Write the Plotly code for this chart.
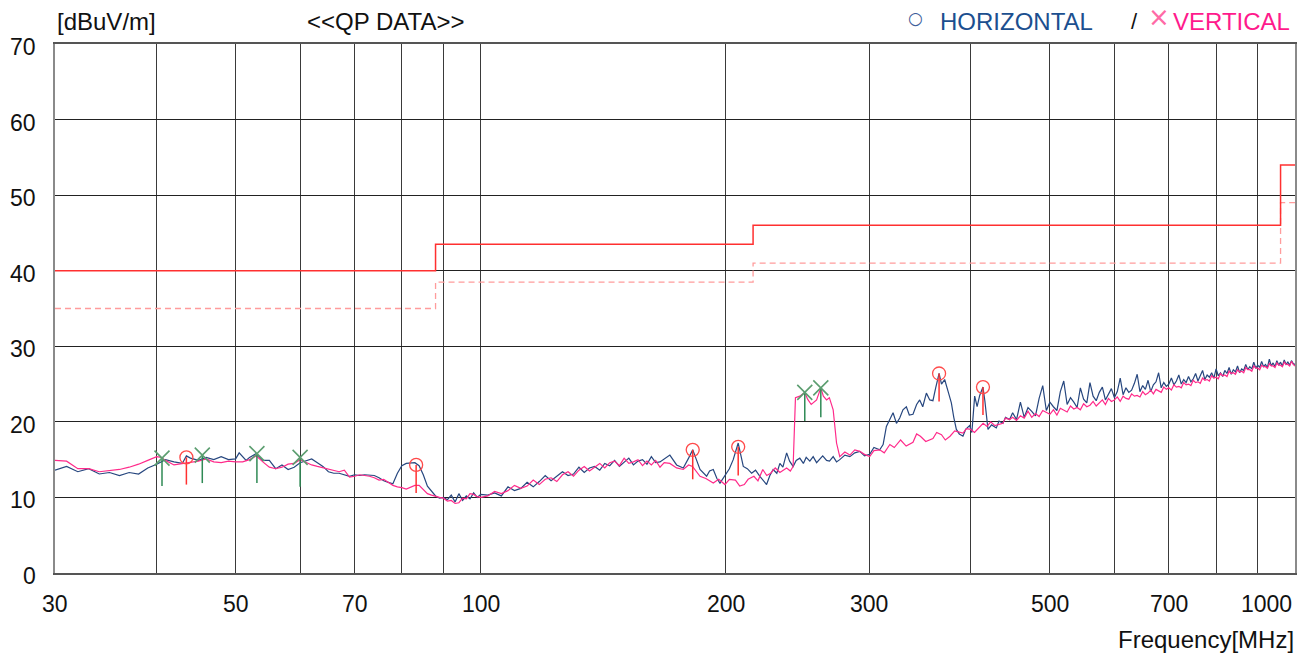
import math
import plotly.graph_objects as go

# ---------------- data ----------------
H_FREQ = [30, 31, 32, 33, 34, 35, 36, 37, 38, 39, 40, 41, 42, 43, 43.5, 44, 45, 46, 47, 48, 49, 50, 50.5, 51.5, 52, 53, 54, 55,
          56, 57, 58, 59, 60, 61, 62, 63, 64, 65, 66, 67, 68, 69, 70, 71, 72, 73, 74, 75, 76, 77, 78, 79, 80, 81, 82, 83, 84,
          85, 86, 87, 88, 89, 90, 91, 92, 93, 94, 95, 96, 97, 98, 99, 100,
          102, 104, 106, 108, 110, 112, 114, 116, 118, 120, 122, 124, 126, 128, 130, 132, 134, 136, 138, 140, 142, 144, 146,
          148, 150, 152, 154, 156, 158, 160, 162, 164, 166, 168, 170.7, 174, 177.3, 180, 182.1, 184, 185.9, 189.4, 191, 193,
          195, 196.7, 199.5, 202, 204.2, 207.1, 210.1, 212.5, 215.1, 217.5, 220.2, 222, 224.4, 226.5, 228.6, 231, 233, 235,
          237.5, 239.5, 241.9, 244, 246.5, 249, 251, 253.6, 256, 258.5, 260.7, 263, 265.9, 268.1, 270.9, 273.5, 276, 280, 284,
          288, 292.1, 296, 300.4, 304, 309, 312, 314.9, 318, 320.9, 324, 327, 330, 333.2, 336, 339.5, 343, 346, 349, 352.6,
          356, 359.2, 362, 365.5, 368, 371.3, 375, 378.4, 381, 383.8, 387, 391, 394, 398.5, 401, 404.2, 407, 410, 413.8, 416,
          419.7, 424, 429.7, 433, 437.8, 441, 446.2,
          450, 455, 460, 465, 470, 475, 480, 485, 490, 495,
          500, 505, 510, 515, 520, 525, 530, 535, 540, 545,
          550, 555, 560, 565, 570, 575, 580, 585, 590, 595,
          600, 605, 610, 615, 620, 625, 630, 635, 640, 645,
          650, 655, 660, 665, 670, 675, 680, 685, 690, 695,
          700, 705, 710, 715, 720, 725, 730, 735, 740, 745,
          750, 755, 760, 765, 770, 775, 780, 785, 790, 795,
          800, 805, 810, 815, 820, 825, 830, 835, 840, 845,
          850, 855, 860, 865, 870, 875, 880, 885, 890, 895,
          900, 905, 910, 915, 920, 925, 930, 935, 940, 945,
          950, 955, 960, 965, 970, 975, 980, 985, 990, 995,
          1000]
H_LEVEL = [13.6, 14.1, 13.4, 13.8, 13.1, 13.3, 12.9, 13.3, 13.1, 13.9, 14.4, 15.0, 14.7, 14.5, 15.5, 15.2, 14.9, 15.3, 15.0,
           15.4, 15.0, 15.1, 15.9, 14.9, 15.3, 15.8, 14.9, 14.9,
           13.8, 14.3, 13.7, 14.0, 14.6, 14.9, 15.1, 14.6, 14.1, 13.4, 13.2, 13.2, 13.0, 12.8, 13.0, 12.9, 13.0, 13.0, 12.9,
           12.6, 12.2, 12.0, 11.8, 13.2, 14.2, 14.5, 14.6, 14.6, 14.2,
           13.0, 11.5, 10.8, 10.2, 9.9, 10.0, 9.7, 10.3, 9.4, 10.5, 9.6, 10.2, 9.8, 10.6, 10.0, 10.4,
           10.3, 10.6, 10.2, 11.4, 10.9, 11.2, 12.0, 11.4, 12.1, 12.9, 12.2, 12.8, 13.4, 12.9, 13.1, 14.0, 13.3, 13.9, 14.1,
           13.6, 14.5, 14.2, 14.9,
           14.1, 14.6, 15.2, 14.3, 14.8, 15.0, 14.4, 15.4, 14.6, 14.7, 15.1, 15.6, 14.3, 13.9, 15.2, 16.3, 15.0, 13.7, 12.8,
           13.5, 13.7,
           12.5, 11.9, 13.0, 13.8, 15.0, 17.2, 14.1, 13.8, 13.2, 13.6, 12.8, 12.3, 11.7, 12.9, 13.7, 13.2, 14.5, 14.0,
           15.9, 14.8, 14.1, 14.9, 15.2, 14.5, 15.3, 14.8, 15.4, 14.6, 15.0, 15.5, 14.9, 14.8, 15.4, 14.7, 15.0, 15.6, 15.4,
           15.9, 16.1, 15.5, 15.7, 16.6, 16.3, 17.0, 19.4, 20.3, 21.2, 19.8, 20.5, 21.6, 22.0, 20.9, 21.0, 22.3, 22.9, 22.0,
           23.8,
           22.9, 22.8, 24.5, 26.4, 25.0, 25.6, 24.0, 22.5, 20.6, 19.0, 18.4, 18.1, 19.0, 19.5, 18.6, 23.4, 22.0, 23.5, 24.6,
           22.8,
           19.0, 19.6, 19.2, 20.1, 19.8, 20.6, 20.3,
           21.2, 20.3, 22.6, 20.6, 21.9, 21.4, 20.8, 23.1, 24.8, 21.5,
           22.6, 22.0, 21.5, 24.0, 25.4, 22.3, 23.2, 22.6, 21.9, 24.5,
           23.0, 22.5, 25.2, 23.4, 22.8, 23.9, 24.6, 22.9, 23.7, 24.4,
           23.2, 24.0, 25.8, 23.6, 24.5, 23.9, 24.2, 25.1, 26.3, 24.0,
           24.8, 24.3, 25.5, 24.0, 24.9, 25.3, 26.5, 24.5, 25.2, 24.7,
           25.0, 25.8, 24.9, 25.4, 26.2, 25.0, 25.6, 25.2, 26.0, 25.3,
           25.7, 26.4, 25.4, 26.0, 26.8, 25.6, 26.2, 25.9, 26.5, 25.8,
           27.0, 26.1, 26.5, 26.0, 26.8, 26.4, 27.2, 26.3, 26.9, 26.6,
           27.4, 26.5, 27.0, 26.8, 27.6, 26.9, 27.3, 27.0, 27.9, 27.1,
           27.5, 27.2, 28.0, 27.3, 27.6, 27.2, 28.3, 27.4, 27.8, 27.3,
           28.1, 27.5, 27.9, 27.4, 28.2, 27.6, 27.9, 27.5, 28.1, 27.7,
           27.6]

V_FREQ = [30, 31, 32, 33, 34, 35, 36, 37, 38, 39, 40, 40.5, 41, 42, 43, 44, 45, 46, 47, 48, 49, 50, 51, 52, 53, 54, 55,
          56, 57, 58, 59, 60, 61, 62, 63, 64, 65, 66, 67, 68, 69, 70, 71, 72, 73, 74, 75, 76, 77, 78, 79, 80, 81, 82, 83, 84,
          85, 86, 87, 88, 89, 90, 91, 92, 93, 94, 95, 96, 97, 98, 99, 100,
          102, 104, 106, 108, 110, 112, 114, 116, 118, 120, 122, 124, 126, 128, 130, 132, 134, 136, 138, 140, 142, 144, 146,
          148, 150, 152, 154, 156, 158, 160, 162, 164, 166, 168, 170.7, 174, 177.3, 180, 182, 184, 185.9, 189, 193, 196,
          199.5, 202, 205.5, 208, 210.7, 213, 216.5, 219, 222, 224.5, 227, 230, 233, 237.5, 240, 241.9, 243.5, 246.5, 250,
          252, 254.6, 258.5, 261.6, 263.5, 265.9, 268, 270.9, 273.5, 276, 280, 284, 288, 292.1, 296, 300.4, 304, 309, 313,
          318, 322, 327.8, 333, 339.5, 343, 346.7, 352, 359.2, 363, 368, 372, 377, 382, 391, 395, 399.6, 404, 409, 414,
          418.5, 423, 428, 437.8, 441, 446.2,
          450, 455, 460, 465, 470, 475, 480, 485, 490, 495,
          500, 505, 510, 515, 520, 525, 530, 535, 540, 545,
          550, 555, 560, 565, 570, 575, 580, 585, 590, 595,
          600, 605, 610, 615, 620, 625, 630, 635, 640, 645,
          650, 655, 660, 665, 670, 675, 680, 685, 690, 695,
          700, 705, 710, 715, 720, 725, 730, 735, 740, 745,
          750, 755, 760, 765, 770, 775, 780, 785, 790, 795,
          800, 805, 810, 815, 820, 825, 830, 835, 840, 845,
          850, 855, 860, 865, 870, 875, 880, 885, 890, 895,
          900, 905, 910, 915, 920, 925, 930, 935, 940, 945,
          950, 955, 960, 965, 970, 975, 980, 985, 990, 995,
          1000]
V_LEVEL = [14.9, 14.8, 13.8, 13.8, 13.4, 13.6, 13.7, 14.0, 14.4, 14.9, 15.4, 15.3, 14.9, 14.3, 14.5, 14.6, 14.8, 15.1,
           14.7, 14.6, 14.8, 14.7, 14.7, 15.0, 15.5, 14.7, 14.0,
           13.8, 14.0, 14.4, 14.5, 15.0, 14.6, 14.3, 14.1, 13.9, 13.7, 13.5, 13.4, 13.6, 12.7, 12.8, 13.0, 12.9, 12.8, 12.6,
           12.3, 12.4, 12.0, 11.6, 11.4, 11.3, 11.1, 11.3, 11.6, 11.6,
           11.0, 10.5, 10.3, 10.1, 10.0, 9.9, 9.5, 9.6, 9.2, 9.3, 9.9, 9.8, 10.5, 10.4, 10.1, 10.0,
           10.2, 10.8, 10.5, 10.9, 11.6, 11.2, 11.5, 12.3, 11.7, 12.4, 12.6, 12.1, 13.0, 13.4, 12.8, 13.6, 14.1, 13.5, 14.0,
           14.5, 13.9, 14.6, 14.8,
           14.2, 15.2, 14.5, 14.7, 15.0, 14.2, 14.8, 14.3, 14.9, 14.0, 14.6, 14.5, 13.9, 13.7, 14.3, 14.1, 13.4, 12.8, 12.5,
           11.9, 12.4,
           11.7, 12.4, 12.3, 11.5, 11.7, 12.4, 12.8, 12.2, 13.7, 12.9, 13.2, 13.9, 13.3, 13.9, 13.5, 14.1, 23.2, 23.4, 23.9,
           23.0, 22.3, 22.9, 24.5, 23.4, 22.9, 23.2, 21.6, 17.2, 15.4, 16.0, 15.6, 16.3, 16.1, 15.7, 15.4, 16.2, 16.3, 15.9,
           17.0, 16.6, 17.6, 16.8, 17.3, 18.4, 18.1, 17.4, 17.8, 18.6, 18.3, 17.6, 18.1, 18.8, 18.5, 19.1, 19.0, 18.6, 19.2,
           19.8,
           19.4, 20.0, 19.5, 19.8, 20.5, 20.3,
           20.6, 20.2, 20.8, 20.5, 21.4, 20.6, 21.1, 20.7, 21.5, 21.2,
           21.0, 21.6, 20.9, 21.8, 21.5, 21.3, 22.1, 21.7, 21.9, 21.6,
           22.4, 22.0, 22.2, 22.7, 22.1, 22.5, 22.9, 22.3, 23.1, 22.7,
           22.9, 23.3, 22.7, 23.4, 23.1, 23.0, 23.7, 23.4, 23.5, 23.3,
           24.0, 23.6, 23.8, 24.2, 23.7, 24.3, 24.1, 23.9, 24.6, 24.3,
           24.5, 24.2, 24.9, 24.6, 24.7, 24.5, 25.2, 24.9, 25.0, 24.8,
           25.5, 25.2, 25.3, 25.1, 25.8, 25.5, 25.6, 25.4, 26.1, 25.8,
           25.9, 25.7, 26.4, 26.1, 26.2, 26.0, 26.7, 26.4, 26.5, 26.3,
           26.9, 26.6, 26.7, 26.5, 27.2, 26.9, 26.9, 26.7, 27.4, 27.1,
           27.1, 26.9, 27.5, 27.3, 27.3, 27.1, 27.7, 27.4, 27.4, 27.2,
           27.8, 27.5, 27.5, 27.3, 27.9, 27.6, 27.6, 27.4, 28.0, 27.6,
           27.4]

# limit lines (step edges)
LIMIT_FREQ = [30, 88, 88, 216, 216, 960, 960, 1000]
LIMIT_QP = [40, 40, 43.5, 43.5, 46, 46, 54, 54]
LIMIT_MARGIN = [35, 35, 38.5, 38.5, 41, 41, 49, 49]

# peak markers (freq, peak level, stem bottom)
H_PEAK_FREQ = [43.5, 83.3, 182.1, 207.1, 365.5, 413.8]
H_PEAK_LEVEL = [15.3, 14.3, 16.3, 16.7, 26.4, 24.6]
H_PEAK_QP = [11.7, 10.6, 12.4, 12.9, 22.7, 20.9]
V_PEAK_FREQ = [40.6, 45.5, 53.1, 60.0, 250.0, 261.6]
V_PEAK_LEVEL = [15.2, 15.6, 15.8, 15.3, 23.9, 24.5]
V_PEAK_QP = [11.5, 11.9, 11.9, 11.4, 20.1, 20.6]

X_GRID = [30, 40, 50, 60, 70, 80, 90, 100, 200, 300, 400, 500, 600, 700, 800, 900, 1000]
X_LABELS = [30, 50, 70, 100, 200, 300, 500, 700, 1000]
Y_TICKS = [0, 10, 20, 30, 40, 50, 60, 70]

# ---------------- styling ----------------
FONT = "Liberation Sans, Arial, sans-serif"
BLUE = "#27477f"
PINK = "#ff2a8a"
RED = "#ff3030"
LIGHTRED = "#ff9c9c"
GREEN = "#2f8a55"
XGREEN = "#5c9e70"

W, H = 1312, 659
ML, MR, MT, MB = 55, 17, 44, 86

fig = go.Figure()

fig.add_trace(go.Scatter(x=LIMIT_FREQ, y=LIMIT_MARGIN, mode="lines",
                         line=dict(color=LIGHTRED, width=1.3, dash="6px,4px"), hoverinfo="skip"))
fig.add_trace(go.Scatter(x=LIMIT_FREQ, y=LIMIT_QP, mode="lines",
                         line=dict(color=RED, width=1.5), hoverinfo="skip"))

fig.add_trace(go.Scatter(x=H_FREQ, y=H_LEVEL, mode="lines", line=dict(color=BLUE, width=1.2), name="HORIZONTAL"))
fig.add_trace(go.Scatter(x=V_FREQ, y=V_LEVEL, mode="lines", line=dict(color=PINK, width=1.2), name="VERTICAL"))


def stems(freqs, tops, bottoms):
    xs, ys = [], []
    for f, t, b in zip(freqs, tops, bottoms):
        xs += [f, f, None]
        ys += [t, b, None]
    return xs, ys


sx, sy = stems(V_PEAK_FREQ, V_PEAK_LEVEL, V_PEAK_QP)
fig.add_trace(go.Scatter(x=sx, y=sy, mode="lines", line=dict(color=GREEN, width=1.5), hoverinfo="skip"))
sx, sy = stems(H_PEAK_FREQ, H_PEAK_LEVEL, H_PEAK_QP)
fig.add_trace(go.Scatter(x=sx, y=sy, mode="lines", line=dict(color=RED, width=1.5), hoverinfo="skip"))

fig.add_trace(go.Scatter(x=V_PEAK_FREQ, y=V_PEAK_LEVEL, mode="markers",
                         marker=dict(symbol="x-thin-open", size=15, color=XGREEN,
                                     line=dict(color=XGREEN, width=1.6))))
fig.add_trace(go.Scatter(x=H_PEAK_FREQ, y=H_PEAK_LEVEL, mode="markers",
                         marker=dict(symbol="circle-open", size=13, color="#ff4a4a",
                                     line=dict(color="#ff4a4a", width=1.3))))

annotations = []
TICKFONT = dict(family=FONT, size=23, color="#111111")
TXTFONT = dict(family=FONT, size=24, color="#111111")

# x tick labels
for v in X_LABELS:
    annotations.append(dict(x=math.log10(v), xref="x", y=0, yref="paper", yanchor="middle",
                            xanchor="right" if v == 1000 else "center",
                            xshift=-1 if v == 1000 else 0, yshift=-31,
                            text=str(v), showarrow=False, font=TICKFONT))
# y tick labels
for v in Y_TICKS:
    annotations.append(dict(x=0, xref="paper", y=v, yref="y", xanchor="right", yanchor="middle",
                            xshift=-17, yshift=-3, text=str(v), showarrow=False, font=TICKFONT))


def top_text(text, left_px, center_y, font, anchor="left"):
    return dict(x=0, xref="paper", y=1, yref="paper", xanchor=anchor, yanchor="middle",
                xshift=left_px - ML, yshift=MT - center_y, text=text, showarrow=False, font=font)


annotations.append(top_text("[dBuV/m]", 55, 21, TXTFONT))
annotations.append(top_text("&lt;&lt;QP DATA&gt;&gt;", 305, 21, TXTFONT))
annotations.append(top_text("○", 915, 18, dict(family="DejaVu Sans, " + FONT, size=17, color="#3d5c99"), "center"))
annotations.append(top_text("HORIZONTAL", 938, 21, dict(family=FONT, size=24, color="#1c4f8f")))
annotations.append(top_text("/", 1134, 21, dict(family=FONT, size=22, color="#111111"), "center"))
annotations.append(top_text("×", 1159, 17, dict(family="DejaVu Sans, " + FONT, size=26, color="#ff6aa6"), "center"))
annotations.append(top_text("VERTICAL", 1171, 21, dict(family=FONT, size=24, color="#ff1a8c")))
annotations.append(dict(x=1, xref="paper", y=0, yref="paper", xanchor="right", yanchor="middle",
                        xshift=1, yshift=-(639 - (H - MB)), text="Frequency[MHz]", showarrow=False, font=TXTFONT))

fig.update_layout(
    width=W, height=H,
    margin=dict(l=ML, r=MR, t=MT, b=MB, pad=0),
    paper_bgcolor="white", plot_bgcolor="white",
    showlegend=False,
    font=dict(family=FONT),
    annotations=annotations,
    xaxis=dict(type="log", range=[math.log10(30), math.log10(1000)], tickvals=X_GRID, showticklabels=False,
               showgrid=True, gridcolor="#3a3a3a", gridwidth=1, zeroline=False,
               showline=True, linecolor="#555555", linewidth=2, mirror=True, ticks=""),
    yaxis=dict(range=[0, 70], tickvals=Y_TICKS, showticklabels=False, showgrid=True, gridcolor="#222222",
               gridwidth=1, zeroline=False, showline=True, linecolor="#8a8a8a", linewidth=2, mirror=True, ticks=""),
)

fig.write_html("out.html", config={"displayModeBar": False},
               post_script="document.body.style.margin='0';document.body.style.overflow='hidden';")
